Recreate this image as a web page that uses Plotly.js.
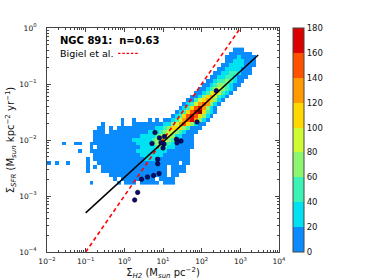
<!DOCTYPE html>
<html><head><meta charset="utf-8">
<script src="https://cdn.plot.ly/plotly-3.0.1.min.js"></script>
<style>html,body{margin:0;padding:0;background:#fff;overflow:hidden}#chart{width:374px;height:280px}</style>
</head><body><div id="chart"></div>
<script>
// ---- 2D histogram of pixel counts (rows from top, log10 bins) ----
// each row: first column index, then counts per column
var histRowStart = [48,47,46,46,45,44,43,42,41,40,39,38,37,36,35,34,33,32,19,14,13,12,12,12,4,11,8,11,10,0,10,10,16,17,11];
var histRowCounts = [
 [6,10,6],
 [6,12,15,10,8,5],
 [5,10,18,22,15,12,8,5],
 [8,15,28,22,26,18,12,6],
 [6,14,22,32,26,22,16,10,5],
 [5,14,26,36,30,24,15,10,5],
 [5,10,22,38,48,40,30,18,8,4],
 [5,10,22,38,52,45,32,18,10,5],
 [5,10,22,42,58,62,42,25,12,5],
 [6,14,30,50,68,72,52,30,15,6],
 [5,14,28,55,78,85,66,40,20,8],
 [5,12,30,58,92,105,80,45,22,8],
 [6,15,35,70,110,125,95,50,22,8],
 [6,18,40,80,118,135,105,60,25,8],
 [8,20,45,90,128,145,120,65,28,10],
 [8,22,50,100,140,160,130,70,30,10],
 [10,25,55,105,150,170,195,110,55,20,8],
 [10,25,55,100,140,165,150,110,60,25,8],
 [5,0,0,5,0,0,0,5,0,6,0,8,15,25,50,90,125,150,170,120,70,30,10],
 [5,0,0,0,0,5,0,0,5,5,8,5,10,8,12,15,22,35,60,95,125,140,115,75,35,12,5],
 [5,5,0,5,0,5,8,5,8,10,8,12,10,15,14,20,28,42,68,100,115,100,70,40,18,8,5],
 [5,5,8,0,5,8,10,8,10,12,10,15,12,18,20,25,32,48,72,95,92,72,48,28,14,6,5],
 [5,8,5,8,10,8,12,10,12,15,15,18,20,22,25,32,52,75,92,85,62,38,22,12,6,5],
 [8,5,10,8,12,10,15,12,15,18,20,22,25,28,32,45,62,78,88,72,52,32,18,10,6,5],
 [5,0,0,5,5,0,0,5,8,5,10,8,12,10,12,15,12,15,18,20,25,28,35,48,60,68,58,42,28,16,10,6,5,5],
 [5,0,8,10,8,10,12,10,12,15,12,15,18,22,25,30,38,45,50,45,35,25,18,12,8,5,5],
 [5,0,0,5,8,5,10,8,12,10,12,15,12,15,18,20,22,28,32,38,35,28,20,15,10,8,5,5,5],
 [0,5,8,5,10,8,10,12,10,12,15,14,18,20,22,25,28,25,20,15,12,8,6,5,5,5],
 [5,0,5,8,5,8,10,8,12,10,12,14,12,15,18,20,22,20,18,14,10,8,6,5,5,5,5],
 [5,0,5,0,0,5,0,0,0,0,5,0,0,5,8,5,10,8,10,12,10,12,14,12,15,16,15,12,10,8,6,5,5,5,0,5,5],
 [5,0,5,0,5,8,5,8,10,8,10,12,10,12,14,12,10,8,6,5,5,0,5,5,5,5],
 [5,0,0,0,5,5,8,5,8,8,10,8,10,12,10,8,6,5,5,5,5,0,5,5,5,5],
 [5,5,8,5,8,6,8,10,8,8,6,5,5,5,5,0,5,5],
 [5,0,5,5,8,5,5,8,5,5,5,0,5,5,5,5],
 [5,0,0,0,0,0,0,5,0,5,5,5,0,5,5,5,5,5,0,5,5,5]
];
// ---- individual regions (Sigma_H2 [Msun/pc2], Sigma_SFR [Msun/kpc2/yr]) ----
var ptsH2  = [6.2, 8.1, 10.9, 10.6, 8.9, 5.2, 22.3, 23, 29.2, 7.3, 7.3, 7.9, 5.7, 3.97, 2.78, 2.21, 1.85, 239, 75.7, 10];
var ptsSFR = [0.0136, 0.0109, 0.01155, 0.0085, 0.00895, 0.00866, 0.0103, 0.00895, 0.0096, 0.00452, 0.00376, 0.00252, 0.00232, 0.00218, 0.00199, 0.00116, 0.00085, 0.0759, 0.021, 0.0072];
// ---- fit line (n=0.63) and Bigiel et al. relation ----
var fitH2 = [0.1, 2900];
var fitSFR = [0.0005, 0.33];
var bigH2 = [0.1, 1000];
var bigSFR = [0.0001, 1];
// ---- colour levels ----
var cbTicks = [0,20,40,60,80,100,120,140,160,180];
var levelColors = ['#0a8cff','#00e2f2','#3cf2b4','#8ef56e','#cdfa32','#ffd800','#ff9a00','#ff5200','#dc0000','#800000'];

// binning geometry (log10 units)
var X0 = -2.0, DX = 0.1, NX = 54;
var YTOP = -0.35, DY = 0.07, NY = histRowCounts.length;

var xEdges = [], yEdges = [];
for (var i = 0; i <= NX; i++) xEdges.push(X0 + DX * i);
for (var k = 0; k <= NY; k++) yEdges.push(YTOP - DY * NY + DY * k);
var z = [];
for (var k = 0; k < NY; k++) {
  var j = NY - 1 - k; // row from top
  var row = [];
  for (var i = 0; i < NX; i++) row.push(null);
  var s = histRowStart[j], vals = histRowCounts[j];
  for (var m = 0; m < vals.length; m++) if (vals[m] > 0) row[s + m] = vals[m];
  z.push(row);
}
function discrete(cols, n) {
  var cs = [];
  for (var i = 0; i < n; i++) { cs.push([i / n, cols[i]]); cs.push([(i + 1) / n, cols[i]]); }
  return cs;
}
var lg = function (a) { return a.map(function (v) { return Math.log10(v); }); };

var minor = [];
for (var d = -4; d < 4; d++) for (var m = 2; m < 10; m++) minor.push(d + Math.log10(m));
function sup(e){ return '10<sup>' + (e < 0 ? '\u2212' + (-e) : e) + '</sup>'; }

var FONT = 'DejaVu Sans, sans-serif';
var AX = '#444';

var traces = [
  { type: 'heatmap', x: xEdges, y: yEdges, z: z, zmin: 0, zmax: 200,
    colorscale: discrete(levelColors, 10), showscale: false, hoverinfo: 'skip', zsmooth: false },
  { type: 'scatter', mode: 'lines', x: lg(bigH2), y: lg(bigSFR),
    line: { color: '#ff0000', width: 1.6, dash: '4px,3px' }, hoverinfo: 'skip' },
  { type: 'scatter', mode: 'lines', x: lg(fitH2), y: lg(fitSFR),
    line: { color: '#000000', width: 1.5 }, hoverinfo: 'skip' },
  { type: 'scatter', mode: 'markers', x: lg(ptsH2), y: lg(ptsSFR),
    marker: { color: '#0a0a78', size: 4.5, line: { color: '#000', width: 0.6 } }, hoverinfo: 'skip' },
  { type: 'scatter', mode: 'markers', x: [null], y: [null], hoverinfo: 'skip',
    marker: { color: [0], cmin: 0, cmax: 180, colorscale: discrete(levelColors.slice(0, 9), 9), showscale: true,
      colorbar: { x: 1.06, xanchor: 'left', y: 0.5, yanchor: 'middle', len: 224, lenmode: 'pixels',
        thickness: 11, thicknessmode: 'pixels', outlinewidth: 1, outlinecolor: AX, xpad: 0, ypad: 0,
        tickvals: cbTicks, ticks: '', tickfont: { size: 8.5, family: FONT, color: '#111' } } } }
];

var layout = {
  width: 374, height: 280, margin: { l: 47, r: 95, t: 28, b: 28 },
  paper_bgcolor: '#fff', plot_bgcolor: '#fff', showlegend: false,
  xaxis: { range: [-2, 4], tickvals: [-2,-1,0,1,2,3,4], ticktext: [-2,-1,0,1,2,3,4].map(sup),
    ticks: 'inside', ticklen: 4, tickwidth: 1, tickcolor: AX, showline: true, linecolor: AX, linewidth: 1,
    mirror: 'allticks', showgrid: false, zeroline: false, ticklabelstandoff: 2,
    minor: { tickvals: minor, ticks: 'inside', ticklen: 2, tickcolor: AX, showgrid: false },
    tickfont: { size: 7.5, family: FONT, color: '#111' },
    title: { text: '\u03a3<sub><i>H2</i></sub> (M<sub><i>sun</i></sub> pc<sup>\u22122</sup>)', font: { size: 10, family: FONT, color: '#111' }, standoff: 4 } },
  yaxis: { range: [-4, 0], tickvals: [-4,-3,-2,-1,0], ticktext: [-4,-3,-2,-1,0].map(sup),
    ticks: 'inside', ticklen: 4, tickwidth: 1, tickcolor: AX, showline: true, linecolor: AX, linewidth: 1,
    mirror: 'allticks', showgrid: false, zeroline: false, ticklabelstandoff: 8,
    minor: { tickvals: minor, ticks: 'inside', ticklen: 2, tickcolor: AX, showgrid: false },
    tickfont: { size: 7.5, family: FONT, color: '#111' },
    title: { text: '\u03a3<sub><i>SFR</i></sub> (M<sub><i>sun</i></sub> kpc<sup>\u22122</sup> yr<sup>\u22121</sup>)', font: { size: 10, family: FONT, color: '#111' }, standoff: 2 } },
  annotations: [
    { xref: 'paper', yref: 'paper', x: 0.047, y: 0.942, xanchor: 'left', yanchor: 'middle', showarrow: false,
      text: '<b>NGC 891:\u00a0 n=0.63</b>', font: { size: 10, family: FONT, color: '#000' } },
    { xref: 'paper', yref: 'paper', x: 0.047, y: 0.888, xanchor: 'left', yanchor: 'middle', showarrow: false,
      text: 'Bigiel et al.', font: { size: 9.5, family: FONT, color: '#000' } }
  ],
  shapes: [
    { type: 'line', xref: 'paper', yref: 'paper', x0: 0.306, x1: 0.392, y0: 0.887, y1: 0.887,
      line: { color: '#ff0000', width: 1.3, dash: '2.5px,1.8px' } }
  ]
};
Plotly.newPlot('chart', traces, layout, { staticPlot: true, displayModeBar: false });
</script></body></html>
